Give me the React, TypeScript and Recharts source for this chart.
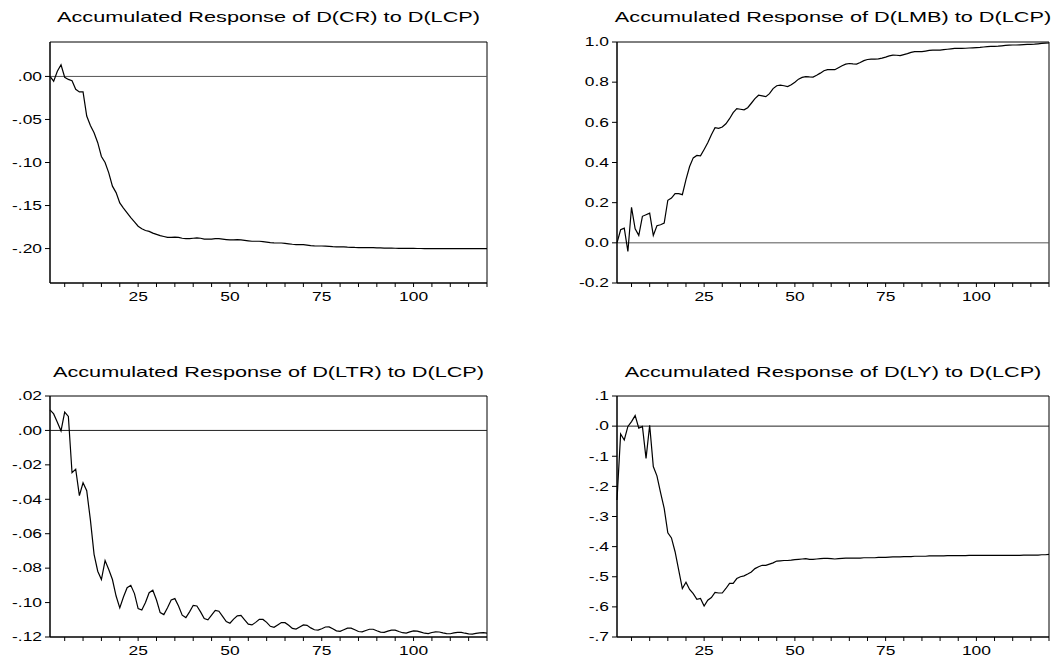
import React from 'react';
import { LineChart, Line, XAxis, YAxis, ReferenceLine, ReferenceArea } from 'recharts';

// periods 1..120 of the impulse response horizon
const periods = Array.from({ length: 120 }, (_, i) => i + 1);
const xTicks = Array.from({ length: 24 }, (_, i) => (i + 1) * 5);

const crValues = [
  0.0, -0.0055, 0.006, 0.0136, -0.001, -0.0035, -0.005, -0.015, -0.018, -0.018,
  -0.046, -0.057, -0.0655, -0.077, -0.093, -0.1, -0.112, -0.1275, -0.135, -0.147,
  -0.153, -0.1585, -0.164, -0.169, -0.174, -0.177, -0.179, -0.18, -0.182, -0.1835,
  -0.185, -0.186, -0.187, -0.187, -0.1868, -0.187, -0.188, -0.1885, -0.1885, -0.188,
  -0.1875, -0.188, -0.189, -0.189, -0.189, -0.1885, -0.1885, -0.189, -0.1895, -0.19,
  -0.19, -0.1895, -0.19, -0.1905, -0.191, -0.1915, -0.1915, -0.1915, -0.192, -0.1925,
  -0.193, -0.1933, -0.1935, -0.1935, -0.194, -0.1945, -0.195, -0.1953, -0.1955, -0.1955,
  -0.196, -0.1965, -0.1968, -0.197, -0.197, -0.1972, -0.1975, -0.1978, -0.198, -0.198,
  -0.198, -0.1983, -0.1985, -0.1987, -0.1988, -0.1988, -0.199, -0.199, -0.199, -0.1992,
  -0.1993, -0.1995, -0.1995, -0.1995, -0.1996, -0.1997, -0.1997, -0.1998, -0.1998, -0.1998,
  -0.1999, -0.1999, -0.2, -0.2, -0.2, -0.2, -0.2, -0.2, -0.2, -0.2,
  -0.2, -0.2, -0.2, -0.2, -0.2, -0.2, -0.2, -0.2, -0.2, -0.2,
];

const lmbValues = [
  0.0, 0.065, 0.073, -0.043, 0.177, 0.07, 0.037, 0.132, 0.14, 0.148,
  0.037, 0.085, 0.09, 0.098, 0.212, 0.223, 0.245, 0.245, 0.24, 0.315,
  0.38, 0.423, 0.435, 0.433, 0.465, 0.498, 0.538, 0.573, 0.57, 0.577,
  0.593, 0.618, 0.648, 0.668, 0.665, 0.662, 0.673, 0.695, 0.718, 0.735,
  0.732, 0.728, 0.743, 0.768, 0.782, 0.785, 0.782, 0.778, 0.787, 0.8,
  0.815, 0.824, 0.828, 0.826, 0.825, 0.834, 0.845, 0.857, 0.862, 0.862,
  0.862, 0.872, 0.882, 0.89, 0.893, 0.891, 0.89, 0.898, 0.907, 0.913,
  0.915, 0.915, 0.916, 0.92, 0.925, 0.931, 0.935, 0.934, 0.932, 0.937,
  0.942, 0.948, 0.952, 0.952, 0.952, 0.955, 0.958, 0.96, 0.96, 0.96,
  0.962, 0.964, 0.966, 0.968, 0.968, 0.968, 0.969, 0.97, 0.971, 0.972,
  0.973, 0.975, 0.977, 0.978, 0.978, 0.979, 0.981, 0.983, 0.984, 0.985,
  0.985, 0.986, 0.987, 0.988, 0.988, 0.989, 0.991, 0.993, 0.994, 0.995,
];

const ltrValues = [
  0.0119, 0.0096, 0.0048, -0.0003, 0.0106, 0.0081, -0.0246, -0.0225, -0.0379, -0.0304,
  -0.035, -0.052, -0.072, -0.0818, -0.0866, -0.0756, -0.0808, -0.0866, -0.0962, -0.1031,
  -0.0968, -0.0914, -0.09, -0.0948, -0.1035, -0.1043, -0.1, -0.0943, -0.0928, -0.0985,
  -0.1058, -0.107, -0.103, -0.0985, -0.0977, -0.102, -0.1073, -0.1087, -0.1054, -0.1016,
  -0.102, -0.1054, -0.1093, -0.11, -0.1073, -0.1046, -0.105, -0.108, -0.111, -0.112,
  -0.1096, -0.1077, -0.1075, -0.11, -0.1125, -0.113, -0.1115, -0.1097, -0.1098, -0.1115,
  -0.1138, -0.1144, -0.113, -0.1116, -0.1117, -0.1132, -0.115, -0.1154, -0.1142, -0.113,
  -0.1132, -0.1147, -0.1158, -0.116, -0.1152, -0.1142, -0.1141, -0.1152, -0.1164, -0.1167,
  -0.1158, -0.1149, -0.1149, -0.1158, -0.1168, -0.117, -0.1162, -0.1155, -0.1155, -0.1164,
  -0.1172, -0.1173, -0.1166, -0.116, -0.116, -0.1168, -0.1175, -0.1177, -0.117, -0.1165,
  -0.1166, -0.1172, -0.1178, -0.118, -0.1174, -0.117, -0.1171, -0.1176, -0.118, -0.1181,
  -0.1176, -0.1173, -0.1173, -0.1178, -0.1182, -0.1183, -0.1179, -0.1176, -0.1175, -0.1177,
];

const lyValues = [
  -0.245, -0.026, -0.046, -0.001, 0.015, 0.035, -0.007, -0.001, -0.107, 0.003,
  -0.134, -0.165, -0.221, -0.273, -0.354, -0.371, -0.417, -0.478, -0.539, -0.518,
  -0.542, -0.556, -0.575, -0.572, -0.597, -0.578, -0.569, -0.552, -0.554, -0.554,
  -0.539, -0.522, -0.522, -0.506, -0.5, -0.497, -0.491, -0.484, -0.473, -0.467,
  -0.462, -0.462, -0.458, -0.454, -0.448, -0.447, -0.446, -0.446, -0.445, -0.443,
  -0.442, -0.441, -0.44, -0.442, -0.442, -0.441, -0.44, -0.439, -0.439, -0.44,
  -0.441, -0.44, -0.439, -0.438, -0.438, -0.438, -0.438, -0.438, -0.437, -0.437,
  -0.437, -0.437, -0.436, -0.436, -0.436, -0.435, -0.434, -0.434, -0.434, -0.433,
  -0.433, -0.433, -0.432, -0.432, -0.432, -0.432, -0.431, -0.431, -0.431, -0.431,
  -0.431, -0.43, -0.43, -0.43, -0.43, -0.43, -0.43, -0.429, -0.429, -0.429,
  -0.429, -0.429, -0.429, -0.429, -0.429, -0.429, -0.429, -0.429, -0.429, -0.429,
  -0.429, -0.429, -0.428, -0.428, -0.428, -0.428, -0.428, -0.427, -0.427, -0.426,
];

const crTicks = [0, -0.05, -0.1, -0.15, -0.2];
const lmbTicks = [1.0, 0.8, 0.6, 0.4, 0.2, 0.0, -0.2];
const ltrTicks = [0.02, 0, -0.02, -0.04, -0.06, -0.08, -0.1, -0.12];
const lyTicks = [0.1, 0, -0.1, -0.2, -0.3, -0.4, -0.5, -0.6, -0.7];

const FONT = "'Liberation Sans', Arial, sans-serif";
const STRETCH = 1.45; // the old EViews output is drawn wide

// ".05" style: drop the leading zero
const noLead = (d: number) => (v: number) => {
  const s = Math.abs(v) < 1e-9 ? (0).toFixed(d) : v.toFixed(d);
  return s.replace(/^(-?)0\./, '$1.');
};
const plain = (d: number) => (v: number) => (Math.abs(v) < 1e-9 ? (0).toFixed(d) : v.toFixed(d));

const YTick = ({ x, y, payload, fmt }: any) => (
  <text
    x={0}
    y={0}
    transform={`translate(${x},${y}) scale(${STRETCH},1)`}
    textAnchor="end"
    dy="0.36em"
    fontSize={12}
    fontFamily={FONT}
    fill="#000"
  >
    {fmt(payload.value)}
  </text>
);

const XTick = ({ x, y, payload }: any) =>
  payload.value % 25 === 0 ? (
    <text
      x={0}
      y={0}
      transform={`translate(${x},${y}) scale(${STRETCH},1)`}
      textAnchor="middle"
      dy="0.75em"
      fontSize={12}
      fontFamily={FONT}
      fill="#000"
    >
      {payload.value}
    </text>
  ) : (
    <g />
  );

type PanelProps = {
  title: string;
  values: number[];
  domain: [number, number];
  ticks: number[];
  fmt: (v: number) => string;
  left: number;
  top: number;
  width: number;
  height: number;
  axisWidth: number;
  marginTop: number;
  marginRight: number;
  axisHeight: number;
  titleY: number;
  zeroColor: string;
};

const Panel = (p: PanelProps) => {
  const data = periods.map((period, i) => ({ period, value: p.values[i] }));
  const plotLeft = p.axisWidth;
  const plotRight = p.width - p.marginRight;
  return (
    <div style={{ position: 'absolute', left: p.left, top: p.top, width: p.width, height: p.height }}>
      <svg width={p.width} height={p.height} style={{ position: 'absolute', left: 0, top: 0 }}>
        <text
          x={0}
          y={0}
          transform={`translate(${(plotLeft + plotRight) / 2},${p.titleY}) scale(1.55,1)`}
          textAnchor="middle"
          fontSize={14}
          fontFamily={FONT}
          fill="#000"
        >
          {p.title}
        </text>
      </svg>
      <div style={{ position: 'absolute', left: 0, top: 0 }}>
        <LineChart
          width={p.width}
          height={p.height}
          data={data}
          margin={{ top: p.marginTop, right: p.marginRight, bottom: 0, left: 0 }}
        >
          <XAxis
            dataKey="period"
            type="number"
            domain={[1, 120]}
            ticks={xTicks}
            interval={0}
            height={p.axisHeight}
            tickSize={4}
            tickMargin={5}
            axisLine={{ stroke: '#000' }}
            tickLine={{ stroke: '#000' }}
            tick={<XTick />}
          />
          <YAxis
            type="number"
            domain={p.domain}
            ticks={p.ticks}
            interval={0}
            width={p.axisWidth}
            tickSize={5}
            tickMargin={3}
            axisLine={{ stroke: '#000' }}
            tickLine={{ stroke: '#000' }}
            tick={<YTick fmt={p.fmt} />}
          />
          <ReferenceArea
            x1={1}
            x2={120}
            y1={p.domain[0]}
            y2={p.domain[1]}
            fill="none"
            stroke="#000"
            strokeWidth={1}
          />
          <ReferenceLine y={0} stroke={p.zeroColor} strokeWidth={1} />
          <Line
            type="linear"
            dataKey="value"
            stroke="#000"
            strokeWidth={1.2}
            dot={false}
            isAnimationActive={false}
          />
        </LineChart>
      </div>
    </div>
  );
};

export default function App() {
  return (
    <div style={{ position: 'absolute', left: 0, top: 0, width: 1056, height: 662, background: '#fff' }}>
      <Panel
        title="Accumulated Response of D(CR) to D(LCP)"
        values={crValues}
        domain={[-0.24, 0.04]}
        ticks={crTicks}
        fmt={noLead(2)}
        left={0}
        top={0}
        width={500}
        height={310}
        axisWidth={50}
        marginTop={42}
        marginRight={13}
        axisHeight={27}
        titleY={22}
        zeroColor="#555"
      />
      <Panel
        title="Accumulated Response of D(LMB) to D(LCP)"
        values={lmbValues}
        domain={[-0.2, 1.0]}
        ticks={lmbTicks}
        fmt={plain(1)}
        left={528}
        top={0}
        width={528}
        height={310}
        axisWidth={89}
        marginTop={42}
        marginRight={7}
        axisHeight={27}
        titleY={22}
        zeroColor="#555"
      />
      <Panel
        title="Accumulated Response of D(LTR) to D(LCP)"
        values={ltrValues}
        domain={[-0.12, 0.02]}
        ticks={ltrTicks}
        fmt={noLead(2)}
        left={0}
        top={350}
        width={500}
        height={312}
        axisWidth={50}
        marginTop={46}
        marginRight={13}
        axisHeight={25}
        titleY={27}
        zeroColor="#222"
      />
      <Panel
        title="Accumulated Response of D(LY) to D(LCP)"
        values={lyValues}
        domain={[-0.7, 0.1]}
        ticks={lyTicks}
        fmt={noLead(1)}
        left={528}
        top={350}
        width={528}
        height={312}
        axisWidth={89}
        marginTop={46}
        marginRight={7}
        axisHeight={25}
        titleY={27}
        zeroColor="#222"
      />
    </div>
  );
}
